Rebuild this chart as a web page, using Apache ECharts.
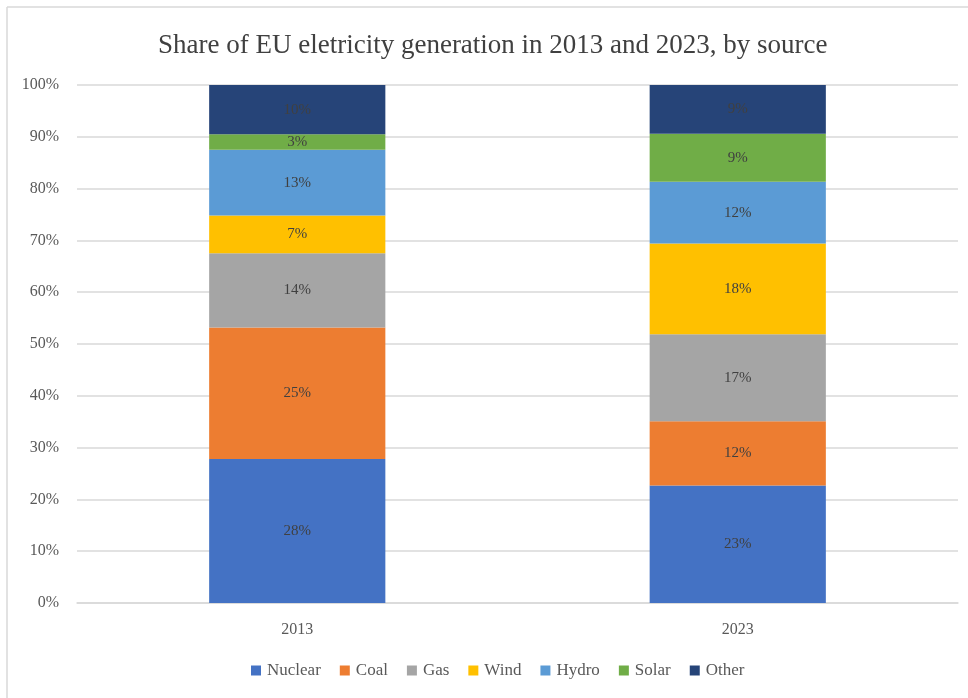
<!DOCTYPE html>
<html>
<head>
<meta charset="utf-8">
<script src="https://cdn.jsdelivr.net/npm/echarts@6/dist/echarts.min.js"></script>
<style>
html,body{margin:0;padding:0;background:#fff;}
#chart{width:968px;height:698px;}
</style>
</head>
<body>
<div id="chart"></div>
<script>
const categories = ['2013', '2023'];
const seriesNames = ['Nuclear', 'Coal', 'Gas', 'Wind', 'Hydro', 'Solar', 'Other'];
const nuclear = [27.8, 22.7];
const coal = [25.4, 12.4];
const gas = [14.3, 16.8];
const wind = [7.3, 17.5];
const hydro = [12.7, 11.9];
const solar = [3.0, 9.3];
const other = [9.5, 9.4];
const yTicks = [0, 10, 20, 30, 40, 50, 60, 70, 80, 90, 100];

const values = [nuclear, coal, gas, wind, hydro, solar, other];
const colors = ['#4472C4', '#ED7D31', '#A5A5A5', '#FFC000', '#5B9BD5', '#70AD47', '#264478'];
const FONT = '"Liberation Serif", "DejaVu Serif", serif';

const chart = echarts.init(document.getElementById('chart'), null, {renderer: 'canvas'});
chart.setOption({
  backgroundColor: '#ffffff',
  animation: false,
  title: {
    text: 'Share of EU eletricity generation in 2013 and 2023, by source',
    left: 153,
    top: 27,
    textStyle: {fontFamily: FONT, fontSize: 27, fontWeight: 'normal', color: '#404040'}
  },
  legend: {
    data: seriesNames,
    bottom: 14,
    left: 246,
    itemWidth: 10,
    itemHeight: 10,
    itemGap: 19,
    icon: 'rect',
    textStyle: {fontFamily: FONT, fontSize: 17, color: '#595959', padding: [0, 0, 0, 1]}
  },
  grid: {left: 77, right: 10, top: 85, bottom: 95, containLabel: false},
  xAxis: {
    type: 'category',
    data: categories,
    axisLine: {show: true, lineStyle: {color: '#d9d9d9', width: 1.5}},
    axisTick: {show: false},
    axisLabel: {fontFamily: FONT, fontSize: 16, color: '#595959', margin: 19}
  },
  yAxis: {
    type: 'value',
    min: yTicks[0],
    max: yTicks[yTicks.length - 1],
    interval: 10,
    axisLine: {show: false},
    axisTick: {show: false},
    splitLine: {lineStyle: {color: '#d9d9d9', width: 1.5}},
    axisLabel: {fontFamily: FONT, fontSize: 16, color: '#595959', margin: 18, formatter: v => v + '%'}
  },
  graphic: [
    {type: 'line', shape: {x1: 7, y1: 7, x2: 968, y2: 7}, style: {stroke: '#d9d9d9', lineWidth: 1.5}},
    {type: 'line', shape: {x1: 7, y1: 7, x2: 7, y2: 698}, style: {stroke: '#d9d9d9', lineWidth: 1.5}}
  ],
  series: seriesNames.map((name, i) => ({
    name: name,
    type: 'bar',
    stack: 'total',
    barWidth: '40%',
    data: values[i],
    itemStyle: {color: colors[i]},
    label: {
      show: true,
      position: 'inside',
      fontFamily: FONT,
      fontSize: 15,
      color: '#404040',
      formatter: p => Math.round(p.value) + '%'
    }
  }))
});
</script>
</body>
</html>
